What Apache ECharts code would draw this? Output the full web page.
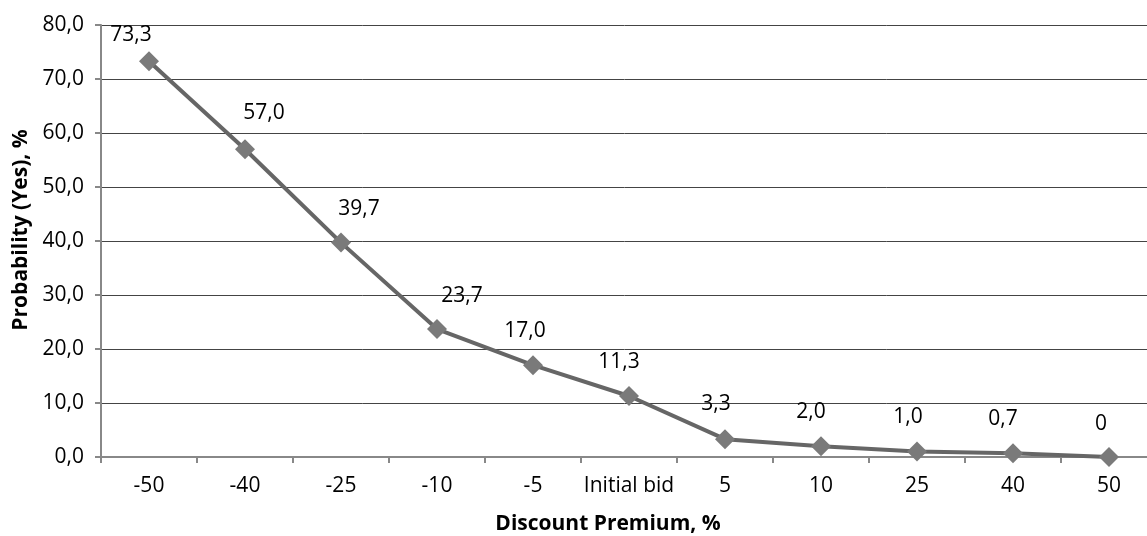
<!DOCTYPE html>
<html>
<head>
<meta charset="utf-8">
<script src="https://cdn.jsdelivr.net/npm/echarts@6/dist/echarts.min.js"></script>
<style>
  html, body { margin: 0; padding: 0; background: #fff; }
  #chart { width: 1147px; height: 536px; }
</style>
</head>
<body>
<div id="chart"></div>
<script>
// Discount / premium levels offered, relative to the initial bid
const categories = ['-50', '-40', '-25', '-10', '-5', 'Initial bid', '5', '10', '25', '40', '50'];
// Probability of a "Yes" answer, %
const probability = [73.3, 57.0, 39.7, 23.7, 17.0, 11.3, 3.3, 2.0, 1.0, 0.7, 0];
// Y axis range and step
const yMin = 0, yMax = 80, yStep = 10;

// Per-label nudges (px) so value labels sit clear of the line
const labelNudge = [-18, 19, 18, 25, -8, -10, -9, -10, -9, -10, -8];
const labelLift = [-26, -36, -34, -33, -34, -34, -35, -34, -35, -34, -33];

const FONT = '"Open Sans", "Noto Sans", sans-serif';

function fmt(v) {
  return v === 0 ? '0' : v.toFixed(1).replace('.', ',');
}

const chart = echarts.init(document.getElementById('chart'), null, { renderer: 'canvas' });

chart.setOption({
  animation: false,
  backgroundColor: '#ffffff',
  grid: {
    left: 101, top: 25, width: 1056, height: 432,
    containLabel: false,
    outerBoundsMode: 'none'
  },
  xAxis: {
    type: 'category',
    data: categories,
    boundaryGap: true,
    name: 'Discount Premium, %',
    nameLocation: 'middle',
    nameGap: 57,
    nameTextStyle: { fontFamily: FONT, fontWeight: 'bold', fontSize: 21, color: '#000', padding: [0, 42, 0, 0] },
    axisLine: { lineStyle: { color: '#888', width: 2 } },
    axisTick: { show: true, alignWithLabel: false, length: 6, lineStyle: { color: '#888', width: 2 } },
    axisLabel: { fontFamily: FONT, fontSize: 21, color: '#000', margin: 19, interval: 0 },
    splitLine: { show: false }
  },
  yAxis: {
    type: 'value',
    min: yMin,
    max: yMax,
    interval: yStep,
    name: 'Probability (Yes), %',
    nameLocation: 'middle',
    nameGap: 66,
    nameRotate: 90,
    nameTextStyle: { fontFamily: FONT, fontWeight: 'bold', fontSize: 21, color: '#000', padding: [0, 0, 0, 22] },
    axisLine: { show: true, lineStyle: { color: '#888', width: 2 } },
    axisTick: { show: true, length: 6, lineStyle: { color: '#888', width: 2 } },
    axisLabel: {
      fontFamily: FONT, fontSize: 21, color: '#000', margin: 17,
      formatter: v => v.toFixed(1).replace('.', ',')
    },
    splitLine: { show: true, lineStyle: { color: '#444', width: 1 } }
  },
  series: [{
    type: 'line',
    data: probability.map((v, i) => ({
      value: v,
      label: { offset: [labelNudge[i], labelLift[i]] }
    })),
    symbol: 'diamond',
    symbolSize: 20,
    showAllSymbol: true,
    lineStyle: { color: '#666666', width: 4 },
    itemStyle: { color: '#7a7a7a' },
    label: {
      show: true,
      position: 'inside',
      fontFamily: FONT,
      fontSize: 21,
      color: '#000',
      formatter: p => fmt(p.value)
    },
    z: 3
  }]
});
</script>
</body>
</html>
